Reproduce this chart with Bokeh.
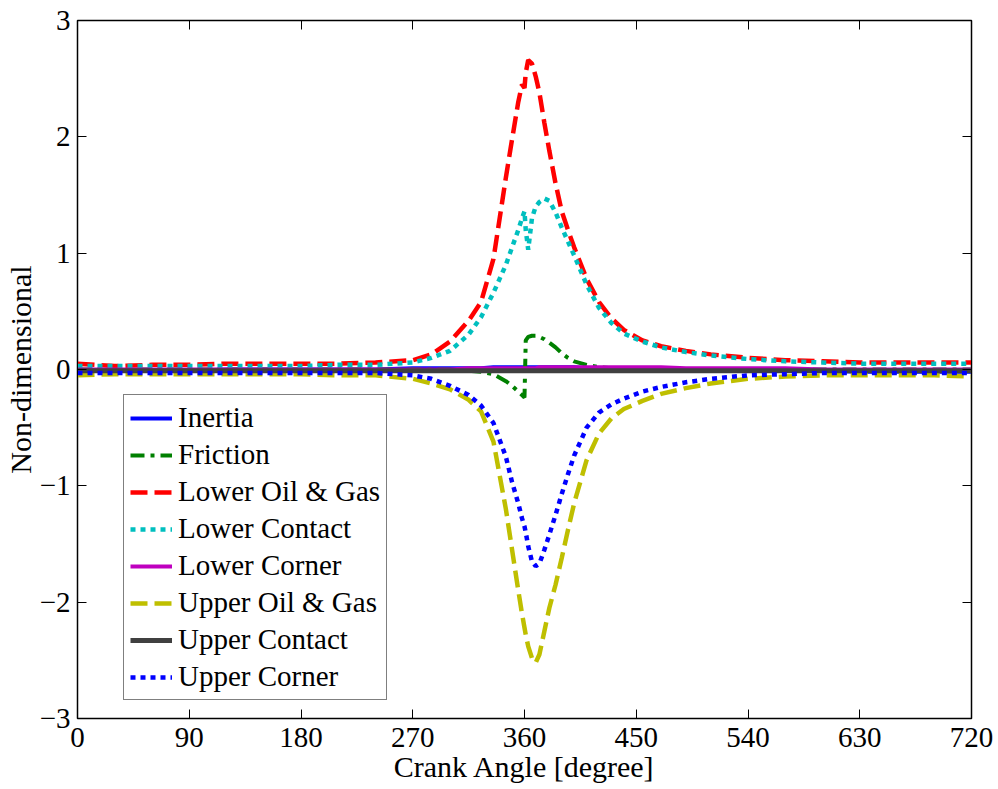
from bokeh.plotting import figure
from bokeh.models import Legend, LegendItem, LinearAxis, FixedTicker, Range1d
from bokeh.embed import file_html
from bokeh.resources import INLINE

# Crank angle samples [degree]
angle = [0, 30, 60, 90, 120, 150, 180, 210, 240, 270, 285, 300, 315, 325, 335, 345,
         350, 355, 358, 360, 361, 363, 366, 369, 372, 376, 380, 385, 390, 395, 400,
         410, 420, 430, 440, 455, 470, 490, 510, 540, 570, 600, 630, 660, 690, 720]

inertia = [-0.01, -0.01, -0.01, -0.01, 0.0, 0.0, 0.0, 0.0, 0.0, 0.01, 0.01, 0.01, 0.01, 0.01, 0.02, 0.02,
           0.02, 0.02, 0.02, 0.02, 0.02, 0.02, 0.02, 0.02, 0.02, 0.02, 0.02, 0.02, 0.02, 0.02, 0.02,
           0.01, 0.01, 0.01, 0.01, 0.01, 0.0, 0.0, 0.0, -0.01, -0.01, -0.01, -0.02, -0.02, -0.02, -0.02]

friction = [0.0, 0.0, 0.0, 0.0, 0.0, 0.0, 0.0, 0.0, 0.0, 0.0, 0.0, 0.0, -0.01, -0.02, -0.04, -0.10,
            -0.14, -0.19, -0.22, -0.24, 0.25, 0.28, 0.29, 0.29, 0.28, 0.26, 0.23, 0.19, 0.14, 0.10, 0.07,
            0.04, 0.02, 0.01, 0.01, 0.01, 0.01, 0.0, 0.0, 0.0, 0.0, 0.0, 0.0, 0.0, 0.0, 0.0]

lower_oil_gas = [0.05, 0.03, 0.04, 0.04, 0.05, 0.05, 0.05, 0.05, 0.06, 0.08, 0.13, 0.24, 0.42, 0.58, 0.95, 1.65,
                 1.98, 2.30, 2.45, 2.42, 2.55, 2.66, 2.63, 2.52, 2.38, 2.12, 1.88, 1.60, 1.36, 1.20, 1.05,
                 0.78, 0.58, 0.44, 0.34, 0.25, 0.20, 0.16, 0.13, 0.10, 0.08, 0.07, 0.06, 0.06, 0.06, 0.06]

lower_contact = [0.03, 0.03, 0.03, 0.03, 0.03, 0.03, 0.03, 0.04, 0.04, 0.06, 0.10, 0.16, 0.30, 0.45, 0.66, 0.90,
                 1.05, 1.20, 1.30, 1.36, 1.20, 1.03, 1.30, 1.40, 1.44, 1.47, 1.45, 1.35, 1.22, 1.10, 0.98,
                 0.73, 0.53, 0.40, 0.31, 0.24, 0.19, 0.15, 0.12, 0.09, 0.07, 0.06, 0.05, 0.05, 0.05, 0.05]

lower_corner = [0.0, 0.0, 0.0, 0.0, 0.0, 0.0, 0.0, 0.0, 0.0, 0.0, 0.0, 0.0, 0.01, 0.01, 0.01, 0.01,
                0.01, 0.01, 0.01, 0.01, 0.01, 0.01, 0.01, 0.01, 0.02, 0.02, 0.02, 0.02, 0.02, 0.02, 0.02,
                0.02, 0.02, 0.02, 0.02, 0.02, 0.02, 0.01, 0.01, 0.01, 0.01, 0.0, 0.0, 0.0, 0.0, 0.0]

upper_oil_gas = [-0.05, -0.04, -0.04, -0.04, -0.04, -0.04, -0.04, -0.05, -0.05, -0.08, -0.12, -0.17, -0.26, -0.36, -0.62, -1.20,
                 -1.55, -1.90, -2.10, -2.22, -2.28, -2.38, -2.48, -2.52, -2.45, -2.25, -2.05, -1.85, -1.62, -1.38, -1.15,
                 -0.78, -0.55, -0.42, -0.34, -0.27, -0.21, -0.16, -0.12, -0.08, -0.06, -0.05, -0.05, -0.05, -0.05, -0.06]

upper_contact = [-0.01] * len(angle)

upper_corner = [-0.03, -0.03, -0.03, -0.03, -0.03, -0.03, -0.03, -0.03, -0.03, -0.05, -0.08, -0.14, -0.22, -0.31, -0.46, -0.75,
                -0.97, -1.15, -1.28, -1.35, -1.40, -1.52, -1.65, -1.69, -1.67, -1.55, -1.42, -1.25, -1.07, -0.90, -0.74,
                -0.50, -0.37, -0.30, -0.25, -0.19, -0.15, -0.11, -0.08, -0.05, -0.04, -0.03, -0.03, -0.03, -0.03, -0.03]

x_ticks = [0, 90, 180, 270, 360, 450, 540, 630, 720]
y_ticks = [-3, -2, -1, 0, 1, 2, 3]

FONT = "Liberation Serif"

p = figure(frame_width=894, frame_height=698, output_backend="svg", toolbar_location=None,
           x_range=Range1d(0, 720), y_range=Range1d(-3, 3),
           min_border_left=76, min_border_top=20, min_border_right=28, min_border_bottom=71,
           background_fill_color="white", border_fill_color="white")
p.xgrid.visible = False
p.ygrid.visible = False
p.outline_line_color = "black"
p.outline_line_width = 1.5

p.xaxis.axis_label = "Crank Angle [degree]"
p.yaxis.axis_label = "Non-dimensional"
for ax, tk in ((p.xaxis[0], x_ticks), (p.yaxis[0], y_ticks)):
    ax.ticker = FixedTicker(ticks=tk)
    ax.major_label_text_font = FONT
    ax.major_label_text_font_size = "29px"
    ax.major_label_text_color = "black"
    ax.axis_label_text_font = FONT
    ax.axis_label_text_font_size = "30px"
    ax.axis_label_text_font_style = "normal"
    ax.axis_label_text_color = "black"
    ax.major_tick_in = 9
    ax.major_tick_out = 0
    ax.minor_tick_line_color = None
    ax.axis_line_color = "black"
    ax.major_tick_line_color = "black"
p.xaxis.major_label_standoff = 9
p.xaxis.axis_label_standoff = 0
p.yaxis.major_label_standoff = 7
p.yaxis.axis_label_standoff = 0

top_ax = LinearAxis(ticker=FixedTicker(ticks=x_ticks), major_label_text_font_size="1px",
                    major_label_text_color=None,
                    major_tick_in=9, major_tick_out=0, minor_tick_line_color=None, major_label_standoff=0)
right_ax = LinearAxis(ticker=FixedTicker(ticks=y_ticks), major_label_text_font_size="1px",
                      major_label_text_color=None,
                      major_tick_in=9, major_tick_out=0, minor_tick_line_color=None, major_label_standoff=0)
p.add_layout(top_ax, "above")
p.add_layout(right_ax, "right")

series = [
    ("Inertia", inertia, "#0000FF", "solid", 4),
    ("Friction", friction, "#008000", "14 6 4 6", 4),
    ("Lower Oil & Gas", lower_oil_gas, "#FF0000", "17 7", 4.5),
    ("Lower Contact", lower_contact, "#00BFBF", "5 5", 4.5),
    ("Lower Corner", lower_corner, "#BF00BF", "solid", 4),
    ("Upper Oil & Gas", upper_oil_gas, "#BFBF00", "17 7", 4.5),
    ("Upper Contact", upper_contact, "#404040", "solid", 5),
    ("Upper Corner", upper_corner, "#0000FF", "5 5", 4.5),
]

items = []
for name, ys, color, dash, w in series:
    r = p.line(angle, ys, line_color=color, line_width=w, line_dash=dash)
    items.append(LegendItem(label=name, renderers=[r]))

legend = Legend(items=items, location=(46, 18), label_text_font=FONT, label_text_font_size="29px",
                label_text_color="black", glyph_width=42, glyph_height=30, label_height=31,
                spacing=4, padding=6, margin=0, label_standoff=6,
                border_line_color="black", border_line_width=1.5, background_fill_alpha=1.0)
p.add_layout(legend, "center")

open("out.html", "w").write(file_html(p, INLINE))
